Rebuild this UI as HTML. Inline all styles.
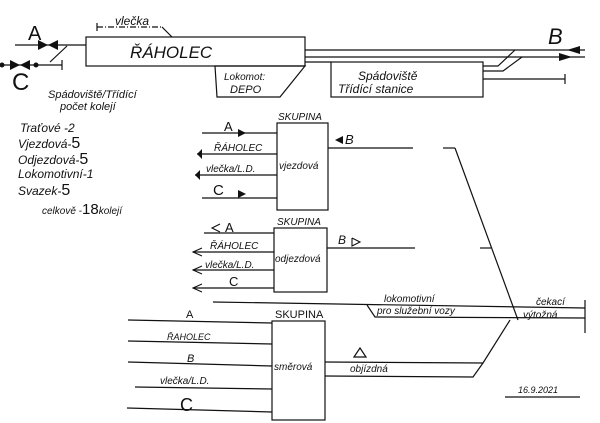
<!DOCTYPE html>
<html><head><meta charset="utf-8"><style>
html,body{margin:0;padding:0;background:#fff}
svg{display:block}
text{font-family:"Liberation Sans",sans-serif;font-style:italic;fill:#111}
</style></head><body>
<svg width="600" height="423" viewBox="0 0 600 423" xmlns="http://www.w3.org/2000/svg">
<g stroke="#111" stroke-width="1.2" fill="none">
<!-- A / C tracks -->
<line x1="15" y1="45" x2="86" y2="45"/>
<line x1="50" y1="62" x2="67" y2="46"/>
<line x1="0" y1="65" x2="62" y2="65"/>
<line x1="62" y1="60" x2="62" y2="70"/>
<!-- vlecka -->
<line x1="97" y1="27" x2="162" y2="27" stroke-dasharray="6,2,1,2"/>
<line x1="97" y1="23" x2="97" y2="31"/>
<line x1="162" y1="27" x2="172" y2="37"/>
<!-- Raholec box -->
<rect x="86" y="37" width="219" height="29"/>
<polygon points="215,66 305,66 280,97 217,97"/>
<!-- right tracks -->
<line x1="305" y1="50" x2="585" y2="50"/>
<line x1="305" y1="57" x2="585" y2="57"/>
<line x1="305" y1="62" x2="331" y2="62"/>
<rect x="331" y="62" width="152" height="35"/>
<polyline points="483,66 498,66 515,50"/>
<polyline points="483,71 503,71 522,57"/>
<line x1="483" y1="79" x2="565" y2="79"/>
<line x1="565" y1="74" x2="565" y2="84"/>
<!-- vjezdova -->
<rect x="277" y="123" width="51" height="87"/>
<line x1="202" y1="133" x2="277" y2="133"/>
<line x1="197" y1="154" x2="277" y2="154"/>
<line x1="195" y1="175" x2="277" y2="175"/>
<line x1="202" y1="198" x2="277" y2="198"/>
<line x1="328" y1="148" x2="413" y2="148"/>
<!-- odjezdova -->
<rect x="274" y="228" width="53" height="64"/>
<line x1="204" y1="233" x2="274" y2="233"/>
<line x1="193" y1="252" x2="274" y2="252"/>
<line x1="193" y1="270" x2="274" y2="270"/>
<line x1="193" y1="288" x2="274" y2="288"/>
<line x1="327" y1="248" x2="415" y2="248"/>
<!-- diagonal -->
<line x1="443" y1="148" x2="455" y2="148"/>
<line x1="455" y1="148" x2="518" y2="320"/>
<line x1="480" y1="248" x2="491" y2="248"/>
<!-- lokomotivni -->
<line x1="213" y1="302" x2="585" y2="308"/>
<polyline points="367,305 375,317 585,318"/>
<line x1="585" y1="300" x2="585" y2="333"/>
<!-- smerova -->
<rect x="272" y="321" width="53" height="99"/>
<line x1="128" y1="320" x2="272" y2="323"/>
<line x1="128" y1="341" x2="272" y2="344"/>
<line x1="128" y1="362" x2="272" y2="366"/>
<line x1="135" y1="387" x2="272" y2="389"/>
<line x1="127" y1="408" x2="272" y2="412"/>
<polyline points="325,362 483,363 510,320"/>
<polyline points="325,376 473,377 483,363"/>
<polygon points="354,357 360,348 366,357"/>
<line x1="505" y1="397" x2="580" y2="397"/>
</g>
<g fill="#111">
<!-- bowties -->
<polygon points="38,40 38,50 48,45"/><polygon points="58,40 58,50 48,45"/>
<polygon points="10,60 10,70 20,65"/><polygon points="30,60 30,70 20,65"/>
<circle cx="2" cy="65" r="2.5"/><circle cx="36" cy="65" r="2.5"/>
<polygon points="567,50 580,46 580,54"/>
<polygon points="572,57 559,53 559,61"/>
<!-- vjezdova arrows -->
<polygon points="246,133 238,129 238,137"/>
<polygon points="197,154 202,149 202,159"/>
<polygon points="195,175 200,170 200,180"/>
<polygon points="246,194 238,190 238,198"/>
<polygon points="335,140 343,136 343,144"/>
</g>
<g fill="none" stroke="#111" stroke-width="1.1">
<polyline points="220,224 212,228 220,232"/>
<polyline points="202,248 193,252 202,256"/>
<polyline points="202,266 193,270 202,274"/>
<polyline points="202,284 193,288 202,292"/>
<polyline points="352,238 360,242 352,246 352,238"/>
</g>
<!-- labels -->
<text x="28" y="40" font-size="20" style="font-style:normal">A</text>
<text x="12" y="90" font-size="24" style="font-style:normal">C</text>
<text x="548" y="44" font-size="22">B</text>
<text x="115" y="25" font-size="12">vlečka</text>
<text x="130" y="58" font-size="17">ŘÁHOLEC</text>
<text x="224" y="80" font-size="10">Lokomot:</text>
<text x="230" y="93" font-size="11">DEPO</text>
<text x="358" y="80" font-size="12">Spádoviště</text>
<text x="338" y="93" font-size="12">Třídící stanice</text>
<text x="48" y="98" font-size="11">Spádoviště/Třídící</text>
<text x="60" y="110" font-size="11">počet kolejí</text>
<text x="20" y="132" font-size="12">Traťové -2</text>
<text x="18" y="148" font-size="12">Vjezdová-<tspan font-size="16" style="font-style:normal">5</tspan></text>
<text x="18" y="164" font-size="12">Odjezdová-<tspan font-size="16" style="font-style:normal">5</tspan></text>
<text x="18" y="178" font-size="12">Lokomotivní-1</text>
<text x="18" y="195" font-size="12">Svazek-<tspan font-size="16" style="font-style:normal">5</tspan></text>
<text x="42" y="214" font-size="10">celkově -<tspan font-size="15" style="font-style:normal">18</tspan>kolejí</text>
<text x="278" y="120" font-size="10">SKUPINA</text>
<text x="224" y="131" font-size="13" style="font-style:normal">A</text>
<text x="214" y="151" font-size="10">ŘÁHOLEC</text>
<text x="206" y="172" font-size="10">vlečka/L.D.</text>
<text x="213" y="195" font-size="15" style="font-style:normal">C</text>
<text x="279" y="169" font-size="10">vjezdová</text>
<text x="345" y="144" font-size="13">B</text>
<text x="277" y="225" font-size="10">SKUPINA</text>
<text x="225" y="232" font-size="13" style="font-style:normal">A</text>
<text x="210" y="249" font-size="10">ŘÁHOLEC</text>
<text x="205" y="268" font-size="10">vlečka/L.D.</text>
<text x="229" y="286" font-size="13" style="font-style:normal">C</text>
<text x="275" y="262" font-size="10">odjezdová</text>
<text x="338" y="244" font-size="12">B</text>
<text x="384" y="302" font-size="10">lokomotivní</text>
<text x="377" y="314" font-size="10">pro služební vozy</text>
<text x="536" y="305" font-size="10">čekací</text>
<text x="523" y="318" font-size="10">výtožná</text>
<text x="275" y="318" font-size="11" style="font-style:normal">SKUPINA</text>
<text x="186" y="318" font-size="11" style="font-style:normal">A</text>
<text x="167" y="340" font-size="9">ŘAHOLEC</text>
<text x="187" y="362" font-size="11">B</text>
<text x="160" y="384" font-size="10">vlečka/L.D.</text>
<text x="180" y="411" font-size="18" style="font-style:normal">C</text>
<text x="274" y="370" font-size="10">směrová</text>
<text x="350" y="372" font-size="10">objízdná</text>
<text x="518" y="393" font-size="9">16.9.2021</text>
</svg>
</body></html>
